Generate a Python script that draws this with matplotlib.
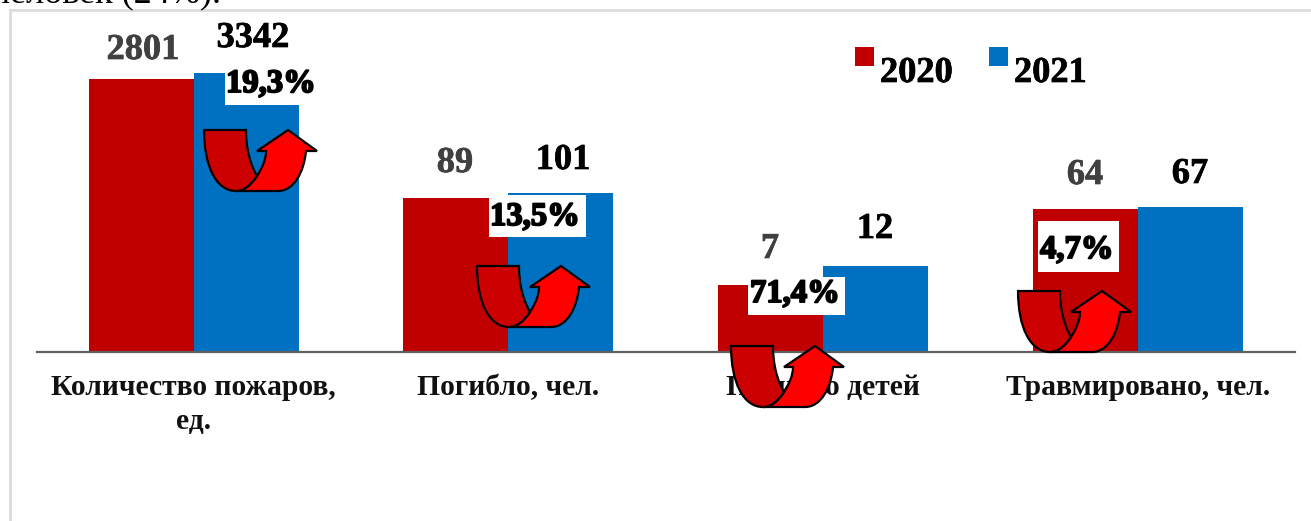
import matplotlib
matplotlib.use("Agg")
import matplotlib.pyplot as plt
import numpy as np
from matplotlib.path import Path
from matplotlib.patches import PathPatch, Rectangle
from matplotlib import patheffects as pe

categories = ["Количество пожаров,\nед.", "Погибло, чел.", "Погибло детей", "Травмировано, чел."]
labels_2020 = [2801, 89, 7, 64]
labels_2021 = [3342, 101, 12, 67]
# drawn heights: the source chart scales every group separately
heights_2020 = [273, 154, 67, 143]
heights_2021 = [279, 159, 86, 145]
growth = ["19,3%", "13,5%", "71,4%", "4,7%"]
series = ["2020", "2021"]

RED, BLUE = "#C00000", "#0070C0"
W, H = 1311, 521
plt.rcParams["font.family"] = ["Liberation Serif", "DejaVu Serif"]

fig = plt.figure(figsize=(W / 100, H / 100), dpi=100)
base = 352
ax = fig.add_axes([36.3 / W, (H - base) / H, (1295 - 36.3) / W, (base - 10) / H])
ax.set_xlim(-0.5, 3.5)
ax.set_ylim(0, base - 10)
x = np.arange(4)
bw = 105 / 314.7
ax.bar(x - bw / 2, heights_2020, bw, color=RED, zorder=2)
ax.bar(x + bw / 2, heights_2021, bw, color=BLUE, zorder=2)
ax.patch.set_alpha(0)
for s in ["top", "left", "right"]:
    ax.spines[s].set_visible(False)
ax.spines["bottom"].set_color("#5f5f5f")
ax.spines["bottom"].set_linewidth(1.6)
ax.spines["bottom"].set_zorder(3)
ax.spines["bottom"].set_bounds(-0.497, 3.5)
ax.set_yticks([])
ax.set_xticks(x)
ax.set_xticklabels(categories, fontsize=21.3, fontweight="bold", color="#111111", linespacing=1.3)
ax.tick_params(axis="x", length=0, pad=16)

# overlay in pixel coordinates for frame, callouts and hand-drawn arrows
ov = fig.add_axes([0, 0, 1, 1], zorder=5)
ov.set_xlim(0, W)
ov.set_ylim(H, 0)
ov.axis("off")
ov.patch.set_alpha(0)

ov.plot([10, W], [10, 10], color="#dcdcdc", lw=2, zorder=0)
ov.plot([10, 10], [10, H], color="#dcdcdc", lw=2, zorder=0)
ov.text(221, 2, "человек (24%).", ha="right", va="baseline", fontsize=26, color="black",
        fontweight="normal", zorder=1, clip_on=True)

pos_2020 = [(143, 59), (455, 172), (770, 258), (1085, 184)]
pos_2021 = [(253, 47), (563, 169), (875, 238), (1190, 183)]
for i in range(4):
    ov.text(*pos_2020[i], str(labels_2020[i]), ha="center", va="baseline", fontsize=26.2, fontweight="bold",
            color="#404040", path_effects=[pe.withStroke(linewidth=0.5, foreground="#404040")])
    ov.text(*pos_2021[i], str(labels_2021[i]), ha="center", va="baseline", fontsize=26.2, fontweight="bold",
            color="black", path_effects=[pe.withStroke(linewidth=0.5, foreground="black")])

# callout boxes
boxes = [(225, 65, 90, 40), (489, 195, 97, 42), (748, 277, 97, 38), (1038, 221, 81, 51)]
text_pos = [(226, 92), (490, 225), (750, 302), (1040, 258)]
for (bx, by, bw_, bh), (tx, ty), g in zip(boxes, text_pos, growth):
    ov.add_patch(Rectangle((bx, by), bw_, bh, fc="white", ec="none", zorder=2))
    ov.text(tx, ty, g, ha="left", va="baseline", fontsize=23.5, fontweight="bold", color="black", zorder=3,
            path_effects=[pe.withStroke(linewidth=1.4, foreground="black")])

# U-turn arrow glyph, in local coordinates of its bounding box
M, L, C, Z = Path.MOVETO, Path.LINETO, Path.CURVE4, Path.CLOSEPOLY
front = ([(0, 0), (42, 0), (42, 18), (46, 34), (53, 46), (47, 55), (40, 61), (32, 61),
          (12, 61), (0, 36), (0, 0), (0, 0)],
         [M, L, C, C, C, C, C, C, C, C, C, Z])
back = ([(32, 61), (40, 61), (47, 55), (53, 46), (58, 38), (62, 30), (62, 21), (53, 21), (84, 0),
         (113, 21), (102, 21), (100, 42), (90, 61), (74, 61), (32, 61), (32, 61)],
        [M, C, C, C, C, C, L, L, L, L, L, C, C, C, L, Z])
anchors = [(204, 130), (477, 266), (731, 346), (1018, 291)]
for ax0, ay0 in anchors:
    for (verts, codes), col, z in [(back, "#FF0000", 6), (front, "#CC0000", 7)]:
        v = np.array(verts, float) + [ax0, ay0]
        ov.add_patch(PathPatch(Path(v, codes), fc=col, ec="black", lw=1.6, zorder=z, joinstyle="miter"))

# legend
for lx, col, name in [(855, RED, series[0]), (989, BLUE, series[1])]:
    ov.add_patch(Rectangle((lx, 47), 19, 19, fc=col, ec="none"))
    ov.text(lx + 25, 82, name, ha="left", va="baseline", fontsize=26.2, fontweight="bold", color="black",
            path_effects=[pe.withStroke(linewidth=0.5, foreground="black")])

fig.savefig("out.png", dpi=100)
